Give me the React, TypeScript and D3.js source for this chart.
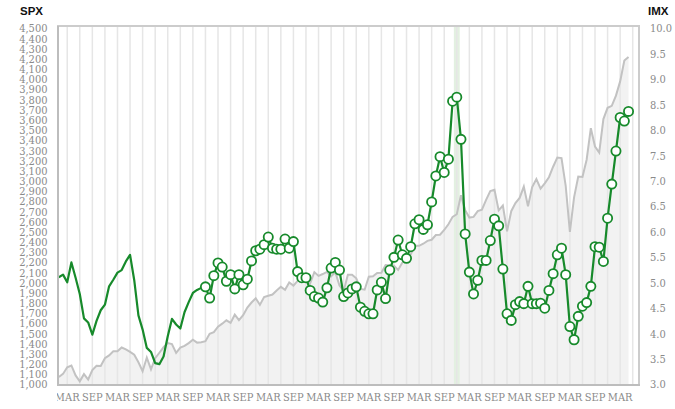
import React from "react";
import * as d3 from "d3";

// Monthly data, Jan 2010 (index 0) .. May 2021 (index 136)
const spx: number[] = [
  1074, 1104, 1169, 1187, 1089, 1031, 1102, 1049, 1141, 1183, 1181, 1258,
  1286, 1327, 1326, 1364, 1345, 1321, 1292, 1219, 1131, 1265, 1150, 1258,
  1312, 1366, 1408, 1398, 1310, 1362, 1379, 1407, 1441, 1412, 1416, 1426,
  1498, 1515, 1569, 1598, 1631, 1606, 1686, 1633, 1682, 1757, 1806, 1848,
  1783, 1859, 1872, 1884, 1924, 1960, 1931, 2003, 1972, 2018, 2068, 2059,
  1995, 2105, 2068, 2086, 2107, 2063, 2104, 1972, 1920, 2079, 2080, 2044,
  1940, 1932, 2060, 2065, 2097, 2099, 2174, 2171, 2168, 2126, 2199, 2239,
  2279, 2364, 2363, 2384, 2412, 2423, 2470, 2472, 2519, 2575, 2648, 2674,
  2860, 2714, 2641, 2648, 2705, 2718, 2816, 2902, 2914, 2712, 2760, 2507,
  2704, 2784, 2834, 2946, 2752, 2942, 3020, 2926, 2977, 3038, 3141, 3231,
  3226, 2954, 2500, 2840, 3044, 3040, 3210, 3520, 3340, 3280, 3610, 3720,
  3740, 3840, 3980, 4186, 4220,
];

const imx: number[] = [
  5.11, 5.16, 5.01, 5.40, 5.10, 4.78, 4.30, 4.22, 3.98, 4.25, 4.46, 4.57,
  4.93, 5.06, 5.20, 5.25, 5.42, 5.55, 5.05, 4.36, 4.08, 3.72, 3.64, 3.42,
  3.40, 3.55, 3.95, 4.29, 4.18, 4.10, 4.42, 4.62, 4.80, 4.86, 4.90, 4.92,
  4.70, 5.14, 5.39, 5.31, 5.03, 5.16, 4.88, 5.16, 4.96, 5.07, 5.43, 5.63,
  5.66, 5.75, 5.90, 5.68, 5.66, 5.66, 5.86, 5.68, 5.81, 5.22, 5.10, 5.10,
  4.85, 4.73, 4.70, 4.62, 4.90, 5.29, 5.40, 5.25, 4.73, 4.80, 4.88, 4.92,
  4.52, 4.44, 4.39, 4.39, 4.86, 5.01, 4.69, 5.25, 5.50, 5.84, 5.55, 5.48,
  5.71, 6.16, 6.24, 6.05, 6.14, 6.59, 7.10, 7.48, 7.17, 7.43, 8.57, 8.65,
  7.82, 5.96, 5.21, 4.78, 5.05, 5.44, 5.44, 5.83, 6.25, 6.12, 5.27, 4.39,
  4.26, 4.57, 4.63, 4.59, 4.93, 4.59, 4.59, 4.60, 4.50, 4.85, 5.18, 5.55,
  5.68, 5.16, 4.14, 3.88, 4.34, 4.54, 4.61, 4.93, 5.71, 5.70, 5.42, 6.27,
  6.94, 7.59, 8.25, 8.18, 8.37,
];

const markerStart = 35; // first month drawn with a marker (Dec 2012)
const highlightMonth = 95; // Dec 2017
const monthLabels = ["MAR", "SEP"];
const labelMonthOfYear = [2, 8];
const gridMonthOfYear = [2, 5, 8, 11];
const spxTicks = d3.range(1000, 4501, 100);
const imxTicks = d3.range(3, 10.01, 0.5);
const spxTitle = "SPX";
const imxTitle = "IMX";

const W = 675;
const H = 409;
const L = 58;
const R = 639;
const T = 26;
const B = 385;

export default function App() {
  const n = spx.length;
  const x = d3.scaleLinear().domain([-0.2, 138.5]).range([L, R]);
  const yL = d3.scaleLinear().domain([1000, 4500]).range([384.5, 28.5]);
  const yR = d3.scaleLinear().domain([3, 10]).range([384.5, 28.5]);

  const idx = d3.range(n);
  const area = d3
    .area<number>()
    .x((i) => x(i))
    .y0(B)
    .y1((i) => yL(spx[i]));
  const spxLine = d3
    .line<number>()
    .x((i) => x(i))
    .y((i) => yL(spx[i]));
  const imxLine = d3
    .line<number>()
    .x((i) => x(i))
    .y((i) => yR(imx[i]));

  const gridIdx = d3.range(-1, 140).filter((i) => gridMonthOfYear.includes(((i % 12) + 12) % 12));
  const labelIdx = d3.range(0, 140).filter((i) => labelMonthOfYear.includes(i % 12));

  const green = "#178a2b";
  const tickFont = "'DejaVu Serif', serif";
  const tickProps = {
    fontFamily: tickFont,
    fontSize: 11,
    fill: "#8a8a8a",
    style: { fontStretch: "condensed" as const },
  };

  return (
    <svg width={W} height={H} style={{ position: "absolute", left: 0, top: 0, background: "#fff" }}>
      <defs>
        <clipPath id="plot">
          <rect x={L} y={T} width={R - L} height={B - T} />
        </clipPath>
        <clipPath id="xlab">
          <rect x={L - 1} y={B} width={W - L} height={H - B} />
        </clipPath>
      </defs>
      <g clipPath="url(#plot)">
        <rect x={L} y={T} width={R - L} height={B - T} fill="#fff" />
        <path d={area(idx) || ""} fill="#f2f2f2" />
        <rect
          x={x(highlightMonth - 0.7)}
          y={T}
          width={x(highlightMonth + 0.7) - x(highlightMonth - 0.7)}
          height={B - T}
          fill="#e3f0e1"
        />
        {gridIdx.map((i) => (
          <line key={i} x1={x(i)} x2={x(i)} y1={T} y2={B} stroke="#e6e6e6" strokeWidth={1.5} />
        ))}
        <path d={spxLine(idx) || ""} fill="none" stroke="#c2c2c2" strokeWidth={2} />
        <path d={imxLine(idx) || ""} fill="none" stroke={green} strokeWidth={2.2} strokeLinejoin="round" />
        {idx
          .filter((i) => i >= markerStart)
          .map((i) => (
            <circle key={i} cx={x(i)} cy={yR(imx[i])} r={4.6} fill="#fff" stroke={green} strokeWidth={1.8} />
          ))}
      </g>
      <rect x={L} y={T} width={R - L} height={B - T} fill="none" stroke="#cccccc" strokeWidth={2} />
      <line x1={L} x2={L} y1={T} y2={B + 1} stroke="#bdbdbd" strokeWidth={2} />
      <line x1={L} x2={R + 1} y1={B} y2={B} stroke="#bdbdbd" strokeWidth={2} />

      {spxTicks.map((v) => (
        <text key={v} x={47.5} y={yL(v)} dy="0.36em" textAnchor="end" {...tickProps}>
          {d3.format(",")(v)}
        </text>
      ))}
      {imxTicks.map((v) => (
        <text key={v} x={650} y={yR(v)} dy="0.36em" textAnchor="start" {...tickProps}>
          {d3.format(".1f")(v)}
        </text>
      ))}
      <g clipPath="url(#xlab)">
        {labelIdx.map((i) => (
          <text key={i} x={x(i)} y={401} textAnchor="middle" {...tickProps}>
            {monthLabels[labelMonthOfYear.indexOf(i % 12)]}
          </text>
        ))}
      </g>
      <text x={20} y={15} fontFamily="'Liberation Sans', Arial, sans-serif" fontWeight="bold" fontSize={11.5} fill="#111">
        {spxTitle}
      </text>
      <text x={648} y={15} fontFamily="'Liberation Sans', Arial, sans-serif" fontWeight="bold" fontSize={11.5} fill="#111">
        {imxTitle}
      </text>
    </svg>
  );
}
